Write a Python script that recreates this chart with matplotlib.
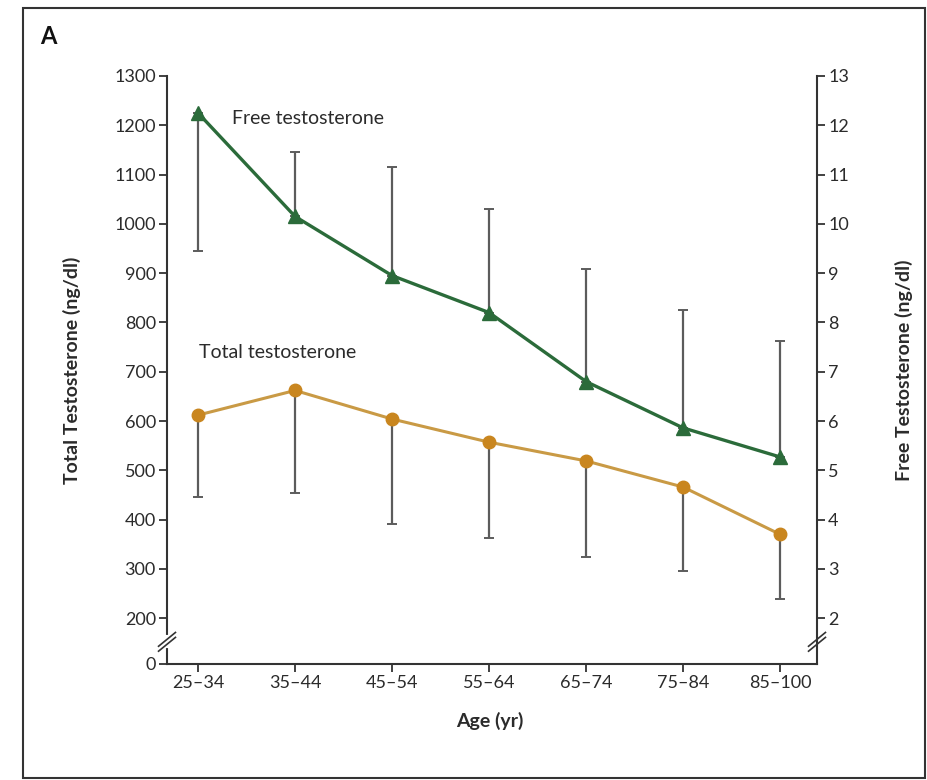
import matplotlib
matplotlib.use("Agg")
import matplotlib.pyplot as plt
from matplotlib.patches import Rectangle
import matplotlib.transforms as mtransforms
import numpy as np

plt.rcParams['font.family'] = ['Lato', 'DejaVu Sans']

# data
age_groups = ["25\u201334", "35\u201344", "45\u201354", "55\u201364", "65\u201374", "75\u201384", "85\u2013100"]
total_mean = [612, 662, 604, 557, 519, 466, 370]
total_bar_end = [446, 454, 392, 362, 324, 296, 238]
free_mean = [12.25, 10.15, 8.95, 8.2, 6.8, 5.86, 5.27]
free_bar_end = [9.45, 11.45, 11.15, 10.3, 9.08, 8.26, 7.62]

left_ticks = [200, 300, 400, 500, 600, 700, 800, 900, 1000, 1100, 1200, 1300]
right_ticks = [2, 3, 4, 5, 6, 7, 8, 9, 10, 11, 12, 13]

green = "#2b6b3a"
orange = "#c9861f"
orange_line = "#c99a45"
bar_col = "#5c5c5c"
txt = "#2b2b2b"

x = np.arange(len(age_groups))
zero_pos = 107  # where the "0" sits below the break

tm = np.array(total_mean)
tb = np.array(total_bar_end)
fm = np.array(free_mean)
fb = np.array(free_bar_end)
# free bars: first goes down, the rest up
lower = np.where(fb < fm, fm - fb, 0)
upper = np.where(fb > fm, fb - fm, 0)

fig = plt.figure(figsize=(9.28, 7.8), dpi=100)
ax = fig.add_axes([167 / 928, 1 - 664 / 780, 650 / 928, 588 / 780])
ax2 = ax.twinx()

ax.errorbar(x, tm, yerr=[tm - tb, np.zeros_like(tm)], fmt='none',
            ecolor=bar_col, elinewidth=1.6, capsize=3.5, capthick=1.4, zorder=2)
ax.plot(x, tm, color=orange_line, lw=2.2, zorder=3)
ax.plot(x, tm, 'o', color=orange, ms=9, zorder=4)

ax2.errorbar(x, fm, yerr=[lower, upper], fmt='none',
             ecolor=bar_col, elinewidth=1.6, capsize=3.5, capthick=1.4, zorder=2)
ax2.plot(x, fm, color=green, lw=2.4, zorder=3)
ax2.plot(x, fm, '^', color=green, ms=10, zorder=4)

ax.set_xlim(-0.32, 6.38)
ax.set_ylim(zero_pos, 1300)
ax2.set_ylim(zero_pos / 100, 13)
ax.set_yticks([zero_pos] + left_ticks)
ax.set_yticklabels(['0'] + [str(t) for t in left_ticks])
ax2.set_yticks(right_ticks)
ax2.set_yticklabels([str(t) for t in right_ticks])
ax.set_xticks(x)
ax.set_xticklabels(age_groups)

for a in (ax, ax2):
    a.spines['top'].set_visible(False)
    for s in a.spines.values():
        s.set_linewidth(1.5)
        s.set_color("#333333")
    a.tick_params(axis='both', length=6, width=1.3, color="#333333",
                  labelsize=13, labelcolor=txt, pad=2)
ax2.spines['left'].set_visible(False)
ax2.spines['bottom'].set_visible(False)
ax.spines['right'].set_visible(False)

ax.set_ylabel("Total Testosterone (ng/dl)", fontsize=14, fontweight='bold', color=txt)
ax.yaxis.set_label_coords(-0.132, 0.5)
ax2.set_ylabel("Free Testosterone (ng/dl)", fontsize=14, fontweight='bold', color=txt)
ax2.yaxis.set_label_coords(1.12, 0.5)
ax.set_xlabel("Age (yr)", fontsize=14, fontweight='bold', color=txt)
ax.xaxis.set_label_coords(0.497, -0.082)

# series names
ax.text(232 / 928, 1 - 118 / 780, "Free testosterone", transform=fig.transFigure,
        fontsize=14, color=txt, va='center', ha='left')
ax.text(199 / 928, 1 - 353 / 780, "Total testosterone", transform=fig.transFigure,
        fontsize=14, color=txt, va='center', ha='left')

# axis breaks on both spines
brk = 152
tr = mtransforms.blended_transform_factory(ax.transAxes, ax.transData)
for xa in (0, 1):
    ax.plot([xa, xa], [brk - 9, brk + 9], color='white', lw=3, transform=tr,
            clip_on=False, zorder=6)
    for dy in (-5, 5):
        ax.plot([xa - 0.013, xa + 0.013], [brk + dy - 14, brk + dy + 14],
                color="#333333", lw=1.2, transform=tr, clip_on=False, zorder=7)

fig.text(40 / 928, 1 - 36 / 780, "A", fontsize=17, fontweight='bold', color="#111111",
         va='center', ha='left')
fig.patches.append(Rectangle((23 / 928, 1 - 778 / 780), 902 / 928, 770 / 780,
                             transform=fig.transFigure, fill=False,
                             edgecolor="#333333", lw=1.5))

fig.savefig("out.png", dpi=100)
